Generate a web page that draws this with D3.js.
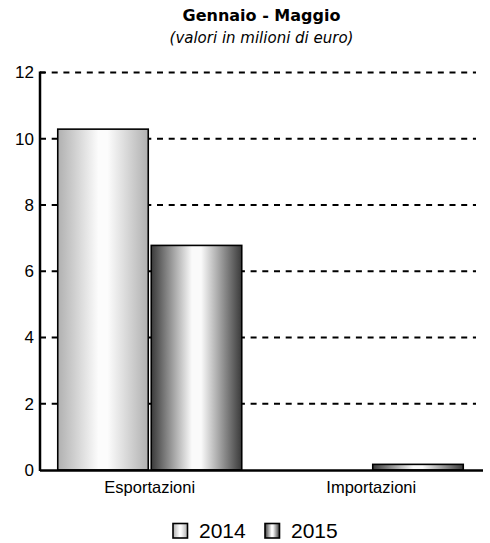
<!DOCTYPE html>
<html><head><meta charset="utf-8">
<script src="https://cdn.jsdelivr.net/npm/d3@7"></script>
<style>body{margin:0;background:#fff}svg{display:block}</style>
</head><body>
<script>
const categories = ["Esportazioni", "Importazioni"];
const seriesNames = ["2014", "2015"];
const values2014 = [10.29, 0];
const values2015 = [6.78, 0.17];
const yTicks = [0, 2, 4, 6, 8, 10, 12];

const W = 490, H = 543;
const m = {left: 40, right: 7, top: 72.5, bottom: 73};
const svg = d3.select("body").append("svg").attr("width", W).attr("height", H);
const defs = svg.append("defs");
const SANS = "Liberation Sans, Arial, sans-serif";
const VERD = "DejaVu Sans, Verdana, sans-serif";

function grad(id, edge, mid) {
  const g = defs.append("linearGradient").attr("id", id).attr("x1", "0%").attr("x2", "100%").attr("y1", "0%").attr("y2", "0%");
  g.append("stop").attr("offset", "0%").attr("stop-color", edge);
  g.append("stop").attr("offset", "45%").attr("stop-color", mid);
  g.append("stop").attr("offset", "55%").attr("stop-color", mid);
  g.append("stop").attr("offset", "100%").attr("stop-color", edge);
}
grad("g2014", "#b0b0b0", "#fcfcfc");
grad("g2015", "#3a3a3a", "#fafafa");
const fills = ["url(#g2014)", "url(#g2015)"];

const x0 = d3.scaleBand().domain(categories).range([m.left, W - m.right]);
const y = d3.scaleLinear().domain([0, 12]).range([H - m.bottom, m.top]);
const cx = (m.left + W - m.right) / 2;

// grid
svg.append("g").selectAll("line").data(yTicks.filter(d => d > 0)).join("line")
  .attr("x1", m.left).attr("x2", 476)
  .attr("y1", d => y(d)).attr("y2", d => y(d))
  .attr("stroke", "#000").attr("stroke-width", 2).attr("stroke-dasharray", "6,5.7");

// bars
const barW = 90.5, gap = 3;
const data = [];
categories.forEach((c, i) => {
  [values2014[i], values2015[i]].forEach((v, j) => data.push({c, j, v}));
});
svg.append("g").selectAll("rect").data(data.filter(d => d.v > 0)).join("rect")
  .attr("x", d => x0(d.c) + x0.bandwidth() / 2 - 1 - barW - gap / 2 + d.j * (barW + gap))
  .attr("y", d => y(d.v))
  .attr("width", barW)
  .attr("height", d => y(0) - y(d.v))
  .attr("fill", d => fills[d.j])
  .attr("stroke", "#000").attr("stroke-width", 1.6);

// y axis
const ya = svg.append("g").attr("transform", `translate(${m.left},0)`)
  .call(d3.axisLeft(y).tickValues(yTicks).tickSize(0).tickPadding(6));
ya.select(".domain").remove();
ya.selectAll("text").attr("font-family", SANS).attr("font-size", 17).attr("fill", "#000");
svg.append("line").attr("x1", m.left).attr("x2", m.left).attr("y1", y(12) - 1).attr("y2", y(0) + 1)
  .attr("stroke", "#000").attr("stroke-width", 2.5);
svg.append("line").attr("x1", m.left).attr("x2", m.left + 5).attr("y1", y(12)).attr("y2", y(12))
  .attr("stroke", "#000").attr("stroke-width", 2);

// x axis
svg.append("line").attr("x1", m.left).attr("x2", W - m.right).attr("y1", y(0) + 0.5).attr("y2", y(0) + 0.5)
  .attr("stroke", "#000").attr("stroke-width", 2.5);
svg.append("g").selectAll("text").data(categories).join("text")
  .attr("x", d => x0(d) + x0.bandwidth() / 2 - 1).attr("y", y(0) + 23)
  .attr("text-anchor", "middle").attr("font-family", SANS).attr("font-size", 16.5)
  .text(d => d);

// titles
svg.append("text").attr("x", cx).attr("y", 21).attr("text-anchor", "middle")
  .attr("font-family", VERD).attr("font-weight", "bold").attr("font-size", 16)
  .text("Gennaio - Maggio");
svg.append("text").attr("x", cx).attr("y", 43).attr("text-anchor", "middle")
  .attr("font-family", VERD).attr("font-style", "italic").attr("font-size", 15)
  .text("(valori in milioni di euro)");

// legend
const lg = svg.append("g");
const lx = [173, 265];
seriesNames.forEach((s, i) => {
  lg.append("rect").attr("x", lx[i]).attr("y", 523.5).attr("width", 14.5).attr("height", 14.5)
    .attr("fill", fills[i]).attr("stroke", "#000").attr("stroke-width", 1.6);
  lg.append("text").attr("x", lx[i] + 26).attr("y", 537.5)
    .attr("font-family", SANS).attr("font-size", 21).text(s);
});
</script>
</body></html>
